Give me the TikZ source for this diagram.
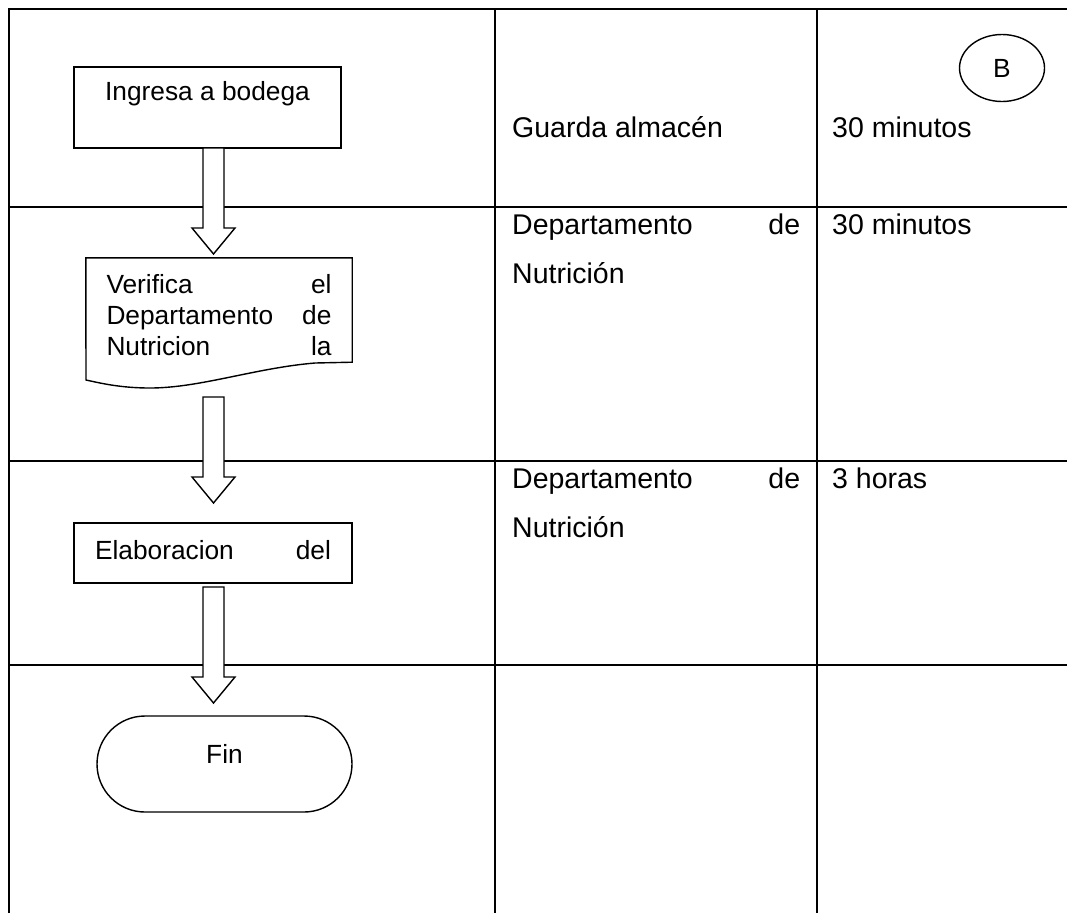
\documentclass[tikz,border=0pt]{standalone}
\usepackage{fontspec}
\setmainfont{Liberation Sans}
\usetikzlibrary{calc, shapes.geometric}

\newcommand{\tabfont}{\fontsize{28.5}{49}\selectfont}
\newcommand{\boxfont}{\fontsize{26.3}{31}\selectfont}

% Block arrow from one coordinate down to another
\newcommand{\blockarrow}[2]{%
	\draw [blk] let \p1 = (#1), \p2 = (#2) in
		(\x1 - 10.5pt, \y1) -- (\x1 + 10.5pt, \y1) -- (\x1 + 10.5pt, \y2 + 26pt) -- (\x1 + 21.5pt, \y2 + 26pt)
		-- (\x1, \y2) -- (\x1 - 21.5pt, \y2 + 26pt) -- (\x1 - 10.5pt, \y2 + 26pt) -- cycle;
}

\tikzset{
	gridline/.style = {line width = 2.2pt},
	blk/.style = {draw, fill = white, line width = 1.4pt, line join = miter},
	proc/.style = {draw, fill = white, line width = 1.4pt, inner sep = 0pt, font = \boxfont},
	term/.style = {proc, rounded corners = 48pt},
	cell/.style = {anchor = base west, inner sep = 0pt, font = \tabfont}
}

\begin{document}
\begin{tikzpicture}[x = 1pt, y = -1pt]

	\useasboundingbox (0, 0) rectangle (1067, 913);

	% Table

	\draw [gridline] (9, 913) -- (9, 9) -- (1067, 9);
	\foreach \x in {495, 817}
		\draw [gridline] (\x, 9) -- (\x, 913);
	\foreach \y in {207, 461, 665}
		\draw [gridline] (9, \y) -- (1067, \y);

	% Column texts

	\node [cell] (resp1) at (512, 137) {Guarda almacén};
	\node [cell] (time1) at (832, 137) {30 minutos};

	\node [cell, text width = 288, align = left] (resp2) at (512, 234) {Departamento\hfill de\\Nutrición};
	\node [cell] (time2) at (832, 234) {30 minutos};

	\node [cell, text width = 288, align = left] (resp3) at (512, 488) {Departamento\hfill de\\Nutrición};
	\node [cell] (time3) at (832, 488) {3 horas};

	\node [draw, ellipse, line width = 1.4pt, minimum width = 85, minimum height = 67, inner sep = 0pt, font = \boxfont] (conB) at (1002, 68) {B};

	% Flow shapes

	\node [proc, anchor = base, minimum width = 267, text height = 33, text depth = 48] (ingresa) at (207.5, 100) {Ingresa a bodega};

	\node [anchor = base, text width = 225, minimum width = 266, text height = 35, text depth = 69, inner sep = 0pt, font = \boxfont, align = left] (verif) at (219, 293) {};
	\draw [blk] (verif.north west) -- (verif.north east) -- (verif.south east) -- (315, 363)
		.. controls (255, 368) and (200, 388) .. (150, 388)
		.. controls (120, 388) and (100, 383) .. (86, 380) -- cycle;
	\node [anchor = base, text width = 225, inner sep = 0pt, font = \boxfont, align = left] at (verif.base) {Verifica\hfill el\\Departamento\hfill de\\Nutricion\hfill la};

	\node [proc, anchor = base, text width = 236, minimum width = 278, text height = 36, text depth = 24] (elab) at (213, 559) {Elaboracion\hfill del};

	\node [term, anchor = base, minimum width = 255, text height = 47, text depth = 49] (fin) at (224.5, 763) {Fin};

	% Arrows

	\coordinate (s1) at (213.5, 148);
	\coordinate (t1) at (213.5, 254);
	\coordinate (s2) at (213.5, 397);
	\coordinate (t2) at (213.5, 503);
	\coordinate (s3) at (213.5, 587);
	\coordinate (t3) at (213.5, 703);

	\blockarrow{s1}{t1}
	\blockarrow{s2}{t2}
	\blockarrow{s3}{t3}

\end{tikzpicture}
\end{document}
